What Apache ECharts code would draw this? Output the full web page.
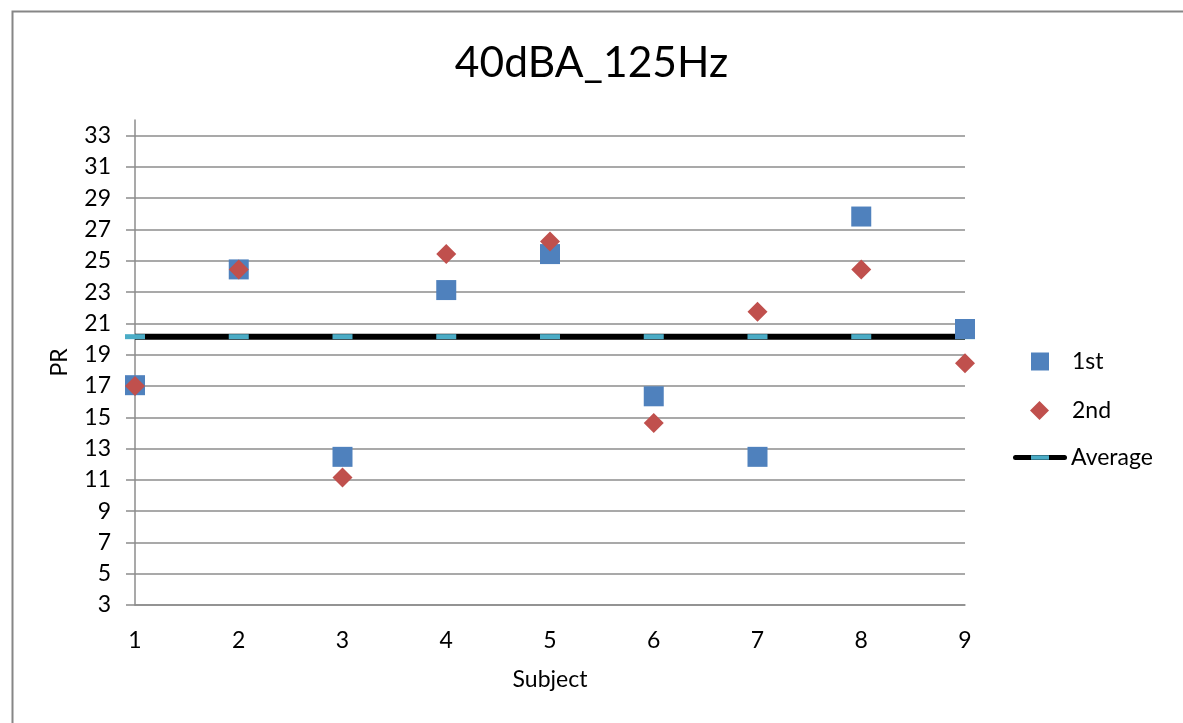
<!DOCTYPE html>
<html><head><meta charset="utf-8">
<script src="https://cdn.jsdelivr.net/npm/echarts@6/dist/echarts.min.js"></script>
<style>html,body{margin:0;padding:0;background:#fff}#c{width:1183px;height:723px}</style>
</head><body><div id="c"></div>
<script>
const title = '40dBA_125Hz';
const subjects = [1, 2, 3, 4, 5, 6, 7, 8, 9];
const first = [17.05, 24.45, 12.47, 23.13, 25.43, 16.34, 12.47, 27.83, 20.64];
const second = [17.0, 24.45, 11.15, 25.43, 26.23, 14.64, 21.75, 24.45, 18.45];
const average = [20.15, 20.15, 20.15, 20.15, 20.15, 20.15, 20.15, 20.15, 20.15];
const yTicks = [3, 5, 7, 9, 11, 13, 15, 17, 19, 21, 23, 25, 27, 29, 31, 33];
const xTicks = [1, 2, 3, 4, 5, 6, 7, 8, 9];

const FONT = 'Lato';
const FS = 23;
const GRAY = '#8c8c8c';
const avgIcon = 'image://data:image/svg+xml;utf8,' + encodeURIComponent(
  '<svg xmlns="http://www.w3.org/2000/svg" width="56" height="8"><rect x="1" y="1.5" width="54" height="5" rx="2.5" fill="#000"/><rect x="19" y="1.8" width="18" height="4.4" fill="#4BACC6"/></svg>');

const pairs = (ys) => subjects.map((s, i) => [s, ys[i]]);

const chart = echarts.init(document.getElementById('c'), null, {renderer: 'canvas'});
chart.setOption({
  animation: false,
  backgroundColor: '#fff',
  textStyle: {fontFamily: FONT},
  title: {
    text: title, left: 'center', top: 37,
    textStyle: {fontFamily: FONT, fontSize: 42.5, fontWeight: 'normal', color: '#000'}
  },
  graphic: [{
    type: 'rect', left: 10, top: 9, silent: true,
    shape: {width: 1200, height: 800},
    style: {fill: 'none', stroke: '#868686', lineWidth: 2}
  }],
  legend: [
    {data: [{name: '1st', icon: 'rect'}], left: 1031, top: 350, padding: 0, itemWidth: 18, itemHeight: 18,
     textStyle: {fontFamily: FONT, fontSize: FS, color: '#000', padding: [0, 0, 0, 18]}},
    {data: [{name: '2nd', icon: 'diamond'}], left: 1030, top: 399, padding: 0, itemWidth: 19, itemHeight: 19,
     textStyle: {fontFamily: FONT, fontSize: FS, color: '#000', padding: [0, 0, 0, 18]}},
    {data: [{name: 'Average', icon: avgIcon}], left: 1012, top: 446, padding: 0, itemWidth: 56, itemHeight: 8,
     textStyle: {fontFamily: FONT, fontSize: FS, color: '#000', padding: [0, 0, 0, -2]}}
  ],
  grid: {left: 135, right: 218, top: 120, bottom: 118, containLabel: false},
  xAxis: {
    type: 'value', min: 1, max: 9, interval: 1,
    name: 'Subject', nameLocation: 'middle', nameGap: 63,
    nameTextStyle: {fontFamily: FONT, fontSize: FS, color: '#000'},
    axisLine: {show: true, onZero: false, lineStyle: {color: GRAY, width: 1.5}},
    axisTick: {show: false},
    splitLine: {show: false},
    axisLabel: {fontFamily: FONT, fontSize: FS, color: '#000', margin: 24, customValues: xTicks}
  },
  yAxis: {
    type: 'value', min: 3, max: 34, interval: 2,
    name: 'PR', nameLocation: 'middle', nameGap: 64,
    nameTextStyle: {fontFamily: FONT, fontSize: FS, color: '#000'},
    axisLine: {show: true, lineStyle: {color: GRAY, width: 1.5}},
    axisTick: {show: true, inside: false, length: 9, lineStyle: {color: GRAY, width: 1.5}, customValues: yTicks},
    axisLabel: {fontFamily: FONT, fontSize: FS, color: '#000', margin: 24, customValues: yTicks},
    splitLine: {show: true, lineStyle: {color: GRAY, width: 1.5}}
  },
  series: [
    {
      name: 'Average', type: 'line', z: 2, data: pairs(average),
      symbol: 'rect', symbolSize: [20, 5], showSymbol: true,
      lineStyle: {color: '#000', width: 6},
      itemStyle: {color: '#4BACC6', borderWidth: 0}
    },
    {
      name: '1st', type: 'scatter', z: 3, data: pairs(first),
      symbol: 'rect', symbolSize: 20,
      itemStyle: {color: '#4F81BD', opacity: 1}
    },
    {
      name: '2nd', type: 'scatter', z: 4, data: pairs(second),
      symbol: 'diamond', symbolSize: 20,
      itemStyle: {color: '#C0504D', opacity: 1}
    }
  ]
});
</script>
</body></html>
